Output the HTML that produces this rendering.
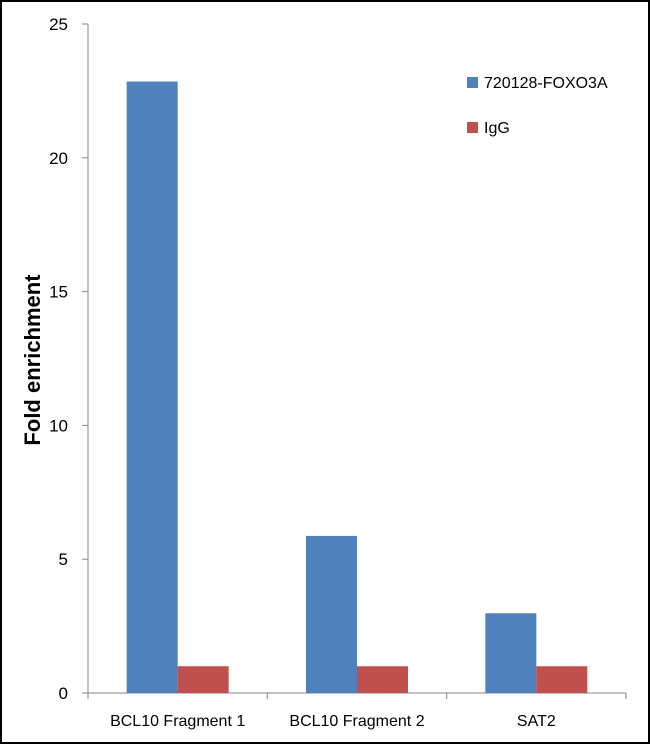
<!DOCTYPE html>
<html><head><meta charset="utf-8"><style>
html,body{margin:0;padding:0;background:#fff}
#wrap{position:relative;width:650px;height:744px;box-sizing:border-box;border:2px solid #000;overflow:hidden}
text{font-family:"Liberation Sans",Calibri,sans-serif}
</style></head><body>
<div id="wrap">
<svg id="chart" width="646" height="740" style="position:absolute;left:0;top:0"></svg>
</div>
<script>
const categories = ["BCL10 Fragment 1","BCL10 Fragment 2","SAT2"];
const seriesNames = ["720128-FOXO3A","IgG"];
const foxo3a = [22.85, 5.87, 2.98];
const igg = [1.0, 1.0, 1.0];
const yTicks = [0,5,10,15,20,25];
const colors = ["#4f81bd","#c0504d"];

const ox=-2, oy=-2; // frame offset
const x0=88, x1=626, yBase=693, yTop=24, yMax=25;
const svg=document.getElementById('chart');
const NS="http://www.w3.org/2000/svg";
function y(v){return yBase-(v/yMax)*(yBase-yTop)+oy;}
function mk(tag,attrs,name){const e=document.createElementNS(NS,tag);for(const k in attrs)e.setAttribute(k,attrs[k]);


svg.appendChild(e);return e;}
// y axis
mk('line',{x1:x0+ox,y1:yTop+oy,x2:x0+ox,y2:yBase+oy,stroke:'#868686','stroke-width':1},'y-axis');
yTicks.forEach(t=>{
  mk('line',{x1:x0-6+ox,y1:y(t),x2:x0+ox,y2:y(t),stroke:'#868686'},'y-tick');
  const tx=mk('text',{x:x0-20+ox,y:y(t)+6,'text-anchor':'end','font-size':17,fill:'#000'},'y-tick-label');tx.textContent=t;
});
mk('line',{x1:x0-6+ox,y1:yBase+oy,x2:x1+ox,y2:yBase+oy,stroke:'#868686'},'x-axis');
const cw=(x1-x0)/categories.length;
for(let i=0;i<=categories.length;i++){
  mk('line',{x1:x0+i*cw+ox,y1:yBase+oy,x2:x0+i*cw+ox,y2:yBase+6+oy,stroke:'#868686'},'x-tick');
}
const bw=51;
categories.forEach((c,i)=>{
  const cx=x0+i*cw+cw/2+ox;
  [foxo3a,igg].forEach((s,j)=>{
    const bx=cx-bw+j*bw;
    mk('rect',{x:bx,y:y(s[i]),width:bw,height:y(0)-y(s[i]),fill:colors[j]},j===0?'bar-foxo3a':'bar-igg');
  });
  const t=mk('text',{x:cx,y:yBase+33+oy,'text-anchor':'middle','font-size':16,fill:'#000'},'x-category-label');t.textContent=c;
});
const yt=mk('text',{x:0,y:0,'text-anchor':'middle','font-size':22,'font-weight':'bold',fill:'#000',transform:`translate(${40+ox},${360+oy}) rotate(-90)`},'y-axis-title');
yt.textContent="Fold enrichment";
seriesNames.forEach((n,j)=>{
  const ly=83+j*45+oy;
  mk('rect',{x:467+ox,y:ly-6,width:11,height:11,fill:colors[j]},'legend-swatch');
  const t=mk('text',{x:484+ox,y:ly+5,'font-size':16,fill:'#000'},'legend-entry');t.textContent=n;
});
</script>
</body></html>
